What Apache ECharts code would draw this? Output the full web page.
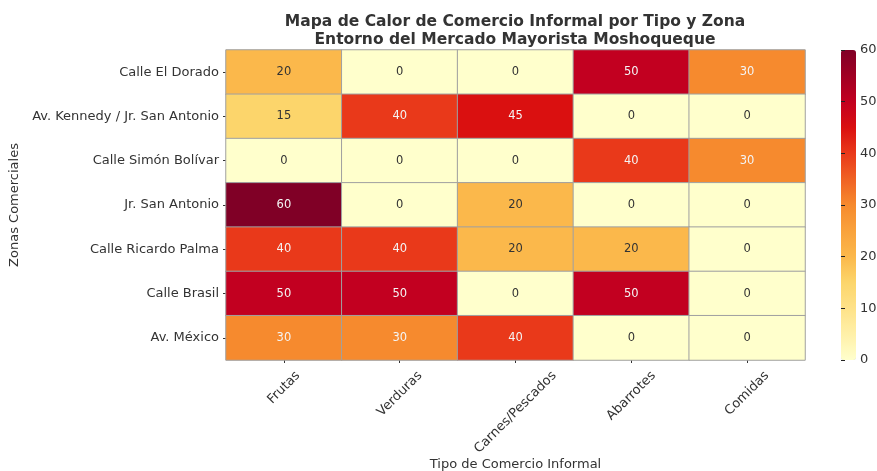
<!DOCTYPE html>
<html><head><meta charset="utf-8">
<script src="https://cdn.jsdelivr.net/npm/echarts@6/dist/echarts.min.js"></script>
<style>html,body{margin:0;padding:0;background:#fff}#c{width:877px;height:471px}</style>
</head><body><div id="c"></div>
<script>
const tipos = ['Frutas','Verduras','Carnes/Pescados','Abarrotes','Comidas'];
const zonas = ['Calle El Dorado','Av. Kennedy / Jr. San Antonio','Calle Simón Bolívar','Jr. San Antonio','Calle Ricardo Palma','Calle Brasil','Av. México'];
const calleElDorado = [20,0,0,50,30];
const avKennedy = [15,40,45,0,0];
const calleSimonBolivar = [0,0,0,40,30];
const jrSanAntonio = [60,0,20,0,0];
const calleRicardoPalma = [40,40,20,20,0];
const calleBrasil = [50,50,0,50,0];
const avMexico = [30,30,40,0,0];
const valores = [calleElDorado, avKennedy, calleSimonBolivar, jrSanAntonio, calleRicardoPalma, calleBrasil, avMexico];
const colorbarTicks = [0,10,20,30,40,50,60];
const escala = ['#ffffcc','#fff0a8','#fee289','#fcd56b','#fbb84b','#f9a23c','#f68a2e','#f06224','#e9391a','#da1010','#c20020','#a00023','#800026'];

const font = 'DejaVu Sans';
const labelSize = 13;
// rich-text spacers so each rotated label is centred under its tick (like matplotlib ha='center')
const ctx = document.createElement('canvas').getContext('2d');
ctx.font = labelSize + 'px "' + font + '"';
const rich = {};
tipos.forEach((t, i) => {
  const k = (ctx.measureText(t).width + labelSize) / 2;
  rich['s' + i] = {height:k, lineHeight:k, fontSize:1};
  rich['r' + i] = {width:k, fontSize:labelSize, fontFamily:font};
  rich['t' + i] = {fontSize:labelSize, fontFamily:font, color:'#333', lineHeight:labelSize + 2};
});
const formatoTipo = (v, i) => '{s' + i + '| }\n{t' + i + '|' + v + '}{r' + i + '| }';

const data = [];
valores.forEach((row, yi) => row.forEach((v, xi) => {
  data.push({value:[xi, yi, v], label:{color: v >= 30 ? '#f4f4f4' : '#333'}});
}));
const chart = echarts.init(document.getElementById('c'), null, {renderer:'canvas'});
chart.setOption({
  animation:false,
  textStyle:{fontFamily:font},
  title:{
    text:'Mapa de Calor de Comercio Informal por Tipo y Zona\nEntorno del Mercado Mayorista Moshoqueque',
    left:510, top:8, textAlign:'center',
    textStyle:{fontFamily:font, fontSize:15.5, fontWeight:'bold', color:'#333', lineHeight:18}
  },
  grid:[
    {left:226, top:50, width:579, height:310, containLabel:false, outerBoundsMode:'none'},
    {left:841, top:50, width:15, height:310, outerBoundsMode:'none'}
  ],
  xAxis:[
    {type:'category', data:tipos, gridIndex:0, position:'bottom',
     axisLine:{show:false}, axisTick:{show:true, alignWithLabel:true, length:3, lineStyle:{color:'#333'}},
     axisLabel:{rotate:45, align:'center', verticalAlign:'middle', color:'#333', fontSize:labelSize, fontFamily:font, margin:9,
                formatter:formatoTipo, rich:rich},
     splitLine:{show:false},
     name:'Tipo de Comercio Informal', nameLocation:'middle', nameGap:98, nameMoveOverlap:false,
     nameTextStyle:{color:'#333', fontSize:13, fontFamily:font}},
    {type:'value', gridIndex:1, show:false, min:0, max:1}
  ],
  yAxis:[
    {type:'category', data:zonas, gridIndex:0, inverse:true,
     axisLine:{show:false}, axisTick:{show:true, alignWithLabel:true, length:3, lineStyle:{color:'#333'}},
     axisLabel:{color:'#333', fontSize:13, fontFamily:font, margin:7},
     name:'Zonas Comerciales', nameLocation:'middle', nameGap:203, nameRotate:90,
     nameTextStyle:{color:'#333', fontSize:13, fontFamily:font}},
    {type:'value', gridIndex:1, position:'right', min:0, max:60, interval:10, zlevel:1, z:10,
     axisLine:{show:true, lineStyle:{color:'rgba(0,0,0,0)'}},
     axisTick:{show:true, length:4, inside:false, lineStyle:{color:'#222', width:1}},
     axisLabel:{color:'#333', fontSize:13, fontFamily:font, margin:4, formatter:(v)=>colorbarTicks.includes(v)?String(v):''},
     splitLine:{show:false}}
  ],
  visualMap:[{
    type:'continuous', min:0, max:60, calculable:false, seriesIndex:0, hoverLink:false,
    orient:'vertical', left:841, top:50, itemWidth:15, itemHeight:310,
    padding:0, text:null, showLabel:false, realtime:false, z:0, zlevel:0,
    inRange:{color:escala}
  }],
  series:[
    {type:'heatmap', xAxisIndex:0, yAxisIndex:0, data:data,
     label:{show:true, fontSize:11.5, fontFamily:font},
     itemStyle:{borderColor:'#a0a0a0', borderWidth:1},
     emphasis:{disabled:true}},
    {type:'scatter', xAxisIndex:1, yAxisIndex:1, data:[], silent:true}
  ]
});
</script></body></html>
